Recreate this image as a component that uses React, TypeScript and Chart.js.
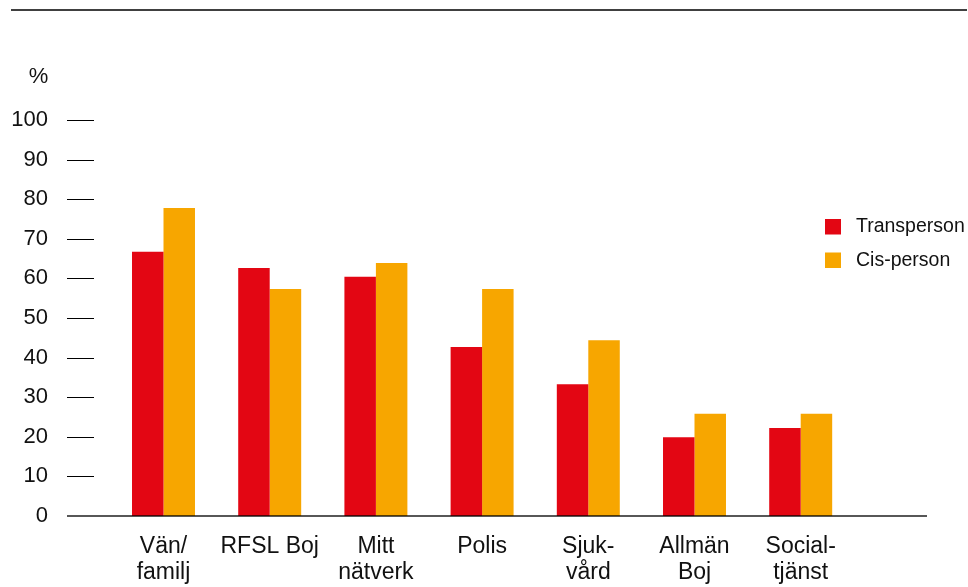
import React, { useEffect, useRef } from "react";
import { Chart, registerables } from "chart.js";

Chart.register(...registerables);

const categories: (string | string[])[] = [
  ["Vän/", "familj"],
  "RFSL Boj",
  ["Mitt", "nätverk"],
  "Polis",
  ["Sjuk-", "vård"],
  ["Allmän", "Boj"],
  ["Social-", "tjänst"],
];
const seriesNames = ["Transperson", "Cis-person"];
const transperson = [66.7, 62.6, 60.4, 42.7, 33.3, 19.9, 22.2];
const cisperson = [77.8, 57.3, 63.9, 57.3, 44.4, 25.8, 25.8];
const seriesColors = ["#E30613", "#F7A600"];
const yMin = 0;
const yMax = 100;
const yStep = 10;
const unitLabel = "%";

const FONT = "'Liberation Sans', Arial, Helvetica, sans-serif";

const decorPlugin = {
  id: "decor",
  beforeDraw(chart: any) {
    const ctx = chart.ctx;
    ctx.save();
    ctx.fillStyle = "#ffffff";
    ctx.fillRect(0, 0, chart.width, chart.height);
    // top rule
    ctx.strokeStyle = "#000000";
    ctx.lineWidth = 1.6;
    ctx.beginPath();
    ctx.moveTo(11, 10);
    ctx.lineTo(967, 10);
    ctx.stroke();
    // y tick marks
    const y = chart.scales.y;
    ctx.lineWidth = 1;
    ctx.strokeStyle = "#000000";
    y.ticks.forEach((t: any) => {
      if (t.value === 0) return;
      const py = Math.round(y.getPixelForValue(t.value)) + 0.5;
      ctx.beginPath();
      ctx.moveTo(67, py);
      ctx.lineTo(94, py);
      ctx.stroke();
    });
    // unit label
    ctx.fillStyle = "#111111";
    ctx.font = `22px ${FONT}`;
    ctx.textAlign = "center";
    ctx.textBaseline = "middle";
    ctx.fillText(unitLabel, 38.5, 77);
    ctx.restore();
  },
  afterDatasetsDraw(chart: any) {
    const ctx = chart.ctx;
    const y = chart.scales.y;
    const py = y.getPixelForValue(0);
    ctx.save();
    ctx.strokeStyle = "rgba(0,0,0,0.66)";
    ctx.lineWidth = 2;
    ctx.beginPath();
    ctx.moveTo(67, py);
    ctx.lineTo(927, py);
    ctx.stroke();
    // legend
    ctx.font = `19.5px ${FONT}`;
    ctx.textAlign = "left";
    ctx.textBaseline = "middle";
    chart.data.datasets.forEach((ds: any, i: number) => {
      const top = 219 + i * 33.5;
      ctx.fillStyle = ds.backgroundColor;
      ctx.fillRect(825, top, 16, 15.5);
      ctx.fillStyle = "#111111";
      ctx.fillText(ds.label, 856, top + 8);
    });
    ctx.restore();
  },
};

export default function App() {
  const ref = useRef<HTMLCanvasElement | null>(null);

  useEffect(() => {
    document.body.style.margin = "0";
    const canvas = ref.current;
    if (!canvas) return;
    const chart = new Chart(canvas, {
      type: "bar",
      data: {
        labels: categories as any,
        datasets: [
          {
            label: seriesNames[0],
            data: transperson,
            backgroundColor: seriesColors[0],
            borderWidth: 0,
          },
          {
            label: seriesNames[1],
            data: cisperson,
            backgroundColor: seriesColors[1],
            borderWidth: 0,
          },
        ],
      },
      options: {
        animation: false,
        responsive: false,
        devicePixelRatio: 1,
        layout: { padding: { top: 120, right: 114.2, left: 0, bottom: 0 } },
        datasets: {
          bar: { categoryPercentage: 0.593, barPercentage: 1.0 },
        } as any,
        plugins: {
          legend: { display: false },
          tooltip: { enabled: false },
          title: { display: false },
        },
        scales: {
          x: {
            grid: { display: false, drawTicks: false },
            border: { display: false },
            ticks: {
              color: "#111111",
              font: { family: FONT, size: 23, lineHeight: 1.13 },
              padding: 18,
              maxRotation: 0,
              autoSkip: false,
            },
            afterFit(scale: any) {
              scale.height = 71;
              scale.paddingLeft = 0;
              scale.paddingRight = 0;
            },
          },
          y: {
            min: yMin,
            max: yMax,
            grid: { display: false, drawTicks: false },
            border: { display: false },
            ticks: {
              stepSize: yStep,
              color: "#111111",
              font: { family: FONT, size: 22 },
              padding: 62.4,
            },
            afterFit(scale: any) {
              scale.width = 110.4;
              scale.paddingTop = 0;
              scale.paddingBottom = 0;
            },
          },
        },
      },
      plugins: [decorPlugin],
    });
    return () => chart.destroy();
  }, []);

  return (
    <div style={{ width: 968, height: 587, overflow: "hidden" }}>
      <canvas ref={ref} width={968} height={587} style={{ display: "block" }} />
    </div>
  );
}
